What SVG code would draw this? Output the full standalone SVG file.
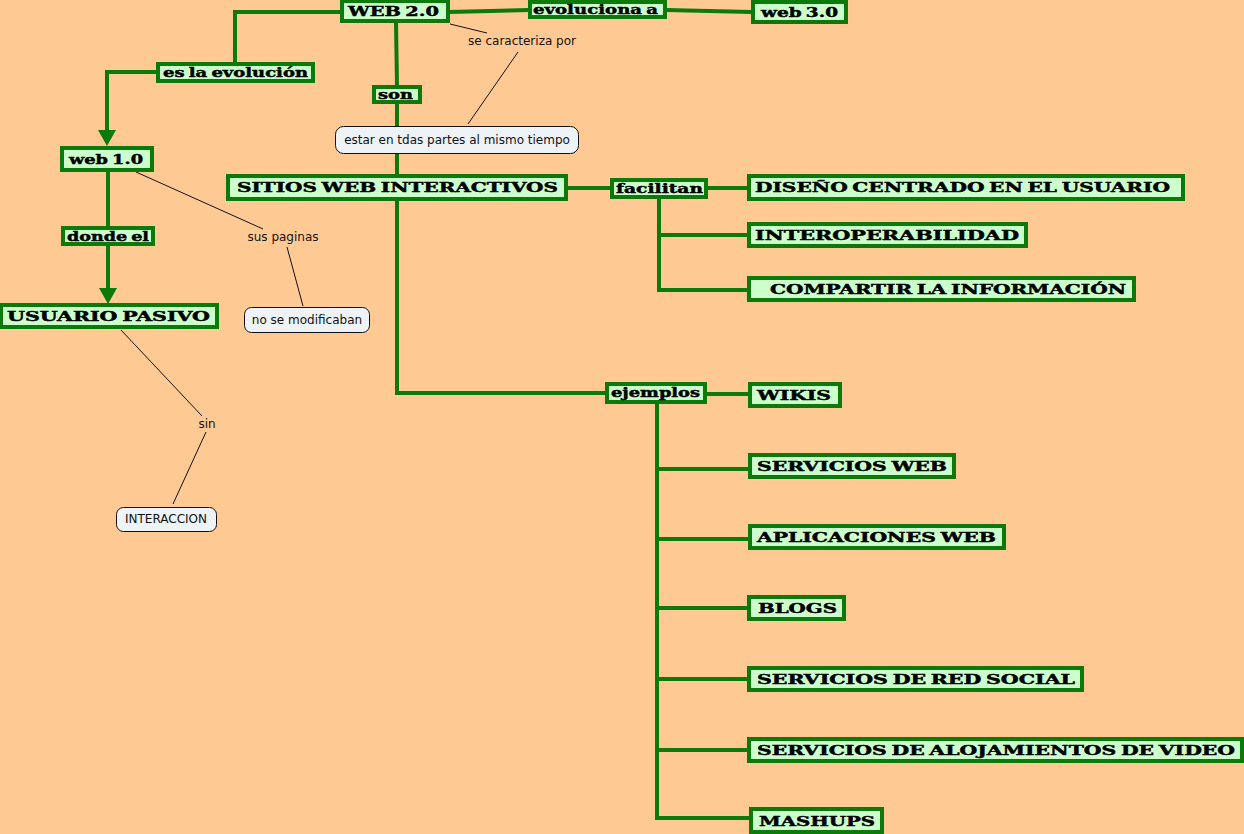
<svg xmlns="http://www.w3.org/2000/svg" width="1244" height="834" viewBox="0 0 1244 834">
<style>
.bx{fill:#ccffcc;stroke:#0b7a0b;stroke-width:4}
.bt{font-family:"DejaVu Serif","Liberation Serif",serif;font-weight:bold;font-size:13px;fill:#000;stroke:#000;stroke-width:0.45;word-spacing:-1.5px}
.cb{fill:#eef3f7;stroke:#111;stroke-width:1}
.ct{font-family:"DejaVu Sans","Verdana",sans-serif;font-size:12px;fill:#111}
.g{fill:none;stroke:#0b7a0b;stroke-width:4}
.k{fill:none;stroke:#111;stroke-width:1}
.ah{fill:#0b7a0b}
</style>
<rect width="1244" height="834" fill="#ffc994"/>
<g id="connectors">
<path class="g" d="M341,12 H235 V63"/>
<path class="g" d="M157,72 H107 V132"/>
<polygon class="ah" points="98,130 116,130 107,146"/>
<path class="g" d="M108,171 V227"/>
<path class="g" d="M108,245 V290"/>
<polygon class="ah" points="99,288 117,288 108,304"/>
<path class="g" d="M396,22 L397,87"/>
<path class="g" d="M397,103 V175"/>
<path class="g" d="M397,200 V393 H606"/>
<path class="g" d="M449,12 L529,10"/>
<path class="g" d="M666,10 L752,12"/>
<path class="g" d="M567,188 H612"/>
<path class="g" d="M706,188 H748"/>
<path class="g" d="M659,197 V290 H748 M659,235 H748"/>
<path class="g" d="M706,394 H749"/>
<path class="g" d="M657,403 V818 H750 M657,469 H749 M657,539 H749 M657,608 H749 M657,679 H749 M657,750 H749"/>
<path class="k" d="M450,24 L487,33"/>
<path class="k" d="M518,52 L468,124"/>
<path class="k" d="M136,172 L263,229"/>
<path class="k" d="M287,247 L303,306"/>
<path class="k" d="M121,330 L202,416"/>
<path class="k" d="M206,432 L173,504"/>
<text class="ct" x="522" y="45" text-anchor="middle">se caracteriza por</text>
<text class="ct" x="283" y="241" text-anchor="middle">sus paginas</text>
<text class="ct" x="207" y="428" text-anchor="middle">sin</text>
</g>
<g id="web20"><rect class="bx" x="342" y="1" width="106" height="20"/><text class="bt" x="348" y="16" textLength="91" lengthAdjust="spacingAndGlyphs">WEB 2.0</text></g>
<g id="evoluciona"><rect class="bx" x="530" y="2" width="135" height="15"/><text class="bt" x="533" y="14" textLength="125" lengthAdjust="spacingAndGlyphs">evoluciona a</text></g>
<g id="web30"><rect class="bx" x="753" y="2" width="93" height="20"/><text class="bt" x="761" y="17" textLength="77" lengthAdjust="spacingAndGlyphs">web 3.0</text></g>
<g id="eslaevolucion"><rect class="bx" x="158" y="64" width="155" height="17"/><text class="bt" x="163" y="77" textLength="145" lengthAdjust="spacingAndGlyphs">es la evolución</text></g>
<g id="son"><rect class="bx" x="374" y="87" width="46" height="15"/><text class="bt" x="378" y="99" textLength="35" lengthAdjust="spacingAndGlyphs">son</text></g>
<g id="web10"><rect class="bx" x="62" y="148" width="90" height="22"/><text class="bt" x="69" y="164" textLength="74" lengthAdjust="spacingAndGlyphs">web 1.0</text></g>
<g id="dondeel"><rect class="bx" x="63" y="228" width="90" height="16"/><text class="bt" x="67" y="241" textLength="82" lengthAdjust="spacingAndGlyphs">donde el</text></g>
<g id="usuariopasivo"><rect class="bx" x="1" y="305" width="216" height="22"/><text class="bt" x="7" y="321" textLength="203" lengthAdjust="spacingAndGlyphs">USUARIO PASIVO</text></g>
<g id="interaccion"><rect class="cb" x="116.5" y="507.5" width="100" height="24" rx="7"/><text class="ct" x="166" y="523" text-anchor="middle">INTERACCION</text></g>
<g id="nosemodificaban"><rect class="cb" x="244.5" y="307.5" width="125" height="25" rx="7"/><text class="ct" x="307" y="324" text-anchor="middle">no se modificaban</text></g>
<g id="estar"><rect class="cb" x="335.5" y="126.5" width="243" height="27" rx="8"/><text class="ct" x="457" y="144" text-anchor="middle">estar en tdas partes al mismo tiempo</text></g>
<g id="sitios"><rect class="bx" x="228" y="176" width="338" height="23"/><text class="bt" x="237" y="192" textLength="321" lengthAdjust="spacingAndGlyphs">SITIOS WEB INTERACTIVOS</text></g>
<g id="facilitan"><rect class="bx" x="612" y="180" width="94" height="17"/><text class="bt" x="616" y="193" textLength="87" lengthAdjust="spacingAndGlyphs">facilitan</text></g>
<g id="diseno"><rect class="bx" x="749" y="176" width="434" height="23"/><text class="bt" x="755" y="192" textLength="415" lengthAdjust="spacingAndGlyphs">DISEÑO CENTRADO EN EL USUARIO</text></g>
<g id="interoperabilidad"><rect class="bx" x="749" y="224" width="277" height="22"/><text class="bt" x="755" y="240" textLength="264" lengthAdjust="spacingAndGlyphs">INTEROPERABILIDAD</text></g>
<g id="compartir"><rect class="bx" x="749" y="278" width="385" height="22"/><text class="bt" x="770" y="294" textLength="356" lengthAdjust="spacingAndGlyphs">COMPARTIR LA INFORMACIÓN</text></g>
<g id="ejemplos"><rect class="bx" x="607" y="384" width="98" height="18"/><text class="bt" x="611" y="397" textLength="89" lengthAdjust="spacingAndGlyphs">ejemplos</text></g>
<g id="wikis"><rect class="bx" x="750" y="384" width="90" height="22"/><text class="bt" x="757" y="400" textLength="74" lengthAdjust="spacingAndGlyphs">WIKIS</text></g>
<g id="serviciosweb"><rect class="bx" x="750" y="455" width="204" height="22"/><text class="bt" x="757" y="471" textLength="190" lengthAdjust="spacingAndGlyphs">SERVICIOS WEB</text></g>
<g id="aplicacionesweb"><rect class="bx" x="750" y="526" width="254" height="22"/><text class="bt" x="757" y="542" textLength="239" lengthAdjust="spacingAndGlyphs">APLICACIONES WEB</text></g>
<g id="blogs"><rect class="bx" x="749" y="597" width="95" height="22"/><text class="bt" x="758" y="613" textLength="79" lengthAdjust="spacingAndGlyphs">BLOGS</text></g>
<g id="redsocial"><rect class="bx" x="749" y="668" width="333" height="22"/><text class="bt" x="757" y="684" textLength="318" lengthAdjust="spacingAndGlyphs">SERVICIOS DE RED SOCIAL</text></g>
<g id="video"><rect class="bx" x="749" y="739" width="493" height="22"/><text class="bt" x="757" y="755" textLength="478" lengthAdjust="spacingAndGlyphs">SERVICIOS DE ALOJAMIENTOS DE VIDEO</text></g>
<g id="mashups"><rect class="bx" x="751" y="809" width="131" height="23"/><text class="bt" x="759" y="826" textLength="116" lengthAdjust="spacingAndGlyphs">MASHUPS</text></g>
</svg>
